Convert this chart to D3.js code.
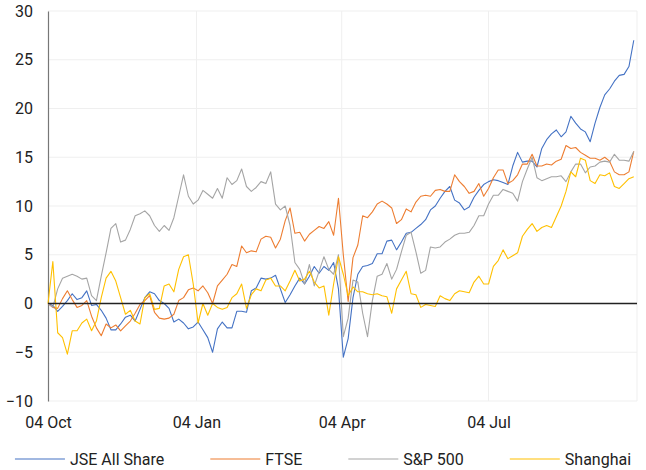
<!DOCTYPE html>
<html>
<head>
<meta charset="utf-8">
<script src="https://cdn.jsdelivr.net/npm/d3@7"></script>
<style>
  body { margin: 0; background: #fff; }
  svg { display: block; font-family: Roboto, "Noto Sans", sans-serif; }
</style>
</head>
<body>
<div id="chart"></div>
<script>
// Indices relatifs (%) depuis le 04 Oct, relevés tous les 3 jours
const startDate = new Date(2022, 9, 4)
const endDate = new Date(2023, 9, 4)
const sampleDates = d3.timeDay.range(startDate, endDate, 3)

const seriesNames = ["JSE All Share", "FTSE", "S&P 500", "Shanghai"]
const seriesColors = ["#4472C4", "#ED7D31", "#A5A5A5", "#FFC000"]

const jse = [
  0, -0.2, -0.8, -0.3, 0.3, 1.0, 0.4, 0.6, 1.3, -0.2, -0.1,
  -0.7, -1.5, -2.7, -2.7, -2.1, -1.4, -1.2, -1.8, -0.6, 0.6,
  1.2, 1.0, 0.3, 0.0, -0.5, -1.9, -1.6, -2.0, -2.6, -2.4,
  -1.9, -2.7, -3.5, -5.0, -2.6, -1.9, -2.5, -2.5, -0.8, -0.8,
  -0.9, 1.3, 1.6, 2.6, 2.5, 2.6, 2.9, 1.5, 0.1, 0.9,
  1.8, 2.6, 2.0, 2.8, 3.8, 3.1, 3.8, 3.4, 4.2, 1.5,
  -5.5, -3.6, 0.6, 3.0, 3.8, 3.9, 4.1, 5.1, 5.1, 6.4,
  6.5, 5.5, 6.3, 7.2, 7.3, 7.7, 8.1, 8.6, 9.6, 10.0,
  10.8, 11.5, 12.0, 10.6, 10.3, 9.6, 9.9, 10.9, 11.6, 12.2,
  12.5,
  12.7, 12.6, 12.4, 12.2, 14.1, 15.5, 14.5, 14.6, 14.6,
  14.0, 15.9, 16.8, 17.4, 17.8, 17.1, 17.6, 19.2, 18.5, 17.9,
  17.6, 16.6, 18.5, 20.1, 21.4, 22.0, 22.8, 23.4, 23.5, 24.3, 27.0,
]
const ftse = [
  0, -0.4, -0.5, 0.5, 1.3, 0.4, -0.4, -0.2, 0.3, -1.3, -2.5,
  -3.3, -2.1, -2.5, -2.2, -2.8, -2.3, -1.8, -1.0, -0.1, 0.3,
  0.8, -0.9, -1.5, -1.6, -1.5, -1.1, 0.3, 0.6, 1.4, 1.6,
  1.3, 1.8, 1.1, 0.0, 1.8, 2.4, 3.0, 4.0, 3.8, 5.9,
  5.2, 5.4, 5.3, 6.6, 6.9, 6.8, 5.7, 6.6, 8.5, 9.8,
  7.2, 7.3, 6.4, 7.1, 7.5, 7.9, 7.7, 8.4, 7.0, 10.8,
  5.0, 0.2, 4.7, 6.0, 9.0, 8.8, 9.4, 10.2, 10.5, 10.2,
  9.8, 8.2, 8.6, 9.7, 9.4, 10.4, 11.0, 11.1, 11.0, 11.6,
  11.7, 11.5, 11.5, 13.2, 12.5, 12.0, 11.3, 11.5, 12.3, 11.0,
  11.8,
  12.9, 13.7, 13.7, 12.3, 12.6, 13.2, 14.3, 14.3, 15.3,
  14.1, 14.1, 14.3, 14.2, 14.6, 14.8, 16.2, 15.9, 16.0, 15.5,
  15.2, 14.9, 14.9, 14.7, 15.0, 14.6, 13.5, 13.2, 13.2, 13.5, 15.6,
]
const sp500 = [
  0, -0.4, 1.5, 2.6, 2.8, 3.0, 2.8, 2.5, 2.6, 0.8, 0.3,
  2.8, 5.2, 7.7, 8.2, 6.3, 6.5, 7.6, 9.0, 9.2, 9.5,
  9.0, 8.0, 7.4, 8.0, 7.5, 8.8, 11.0, 13.2, 11.0, 10.2,
  10.6, 11.6, 11.2, 10.8, 11.8, 10.8, 12.9, 12.2, 12.6, 13.8,
  12.0, 11.5, 11.9, 12.5, 12.3, 13.5, 10.2, 9.6, 10.0, 8.0,
  4.2, 3.5, 2.0, 4.0, 1.8, 3.3, 4.8, 3.5, 3.0, 5.0,
  -3.4, -1.5, 2.4, 2.2, -1.0, -3.4, 0.3, 2.8, 3.0, 4.1,
  2.5, 3.5, 5.3, 7.0, 7.3, 5.3, 3.1, 3.4, 5.8, 5.7,
  5.8, 6.3, 6.6, 7.0, 7.2, 7.2, 7.3, 8.0, 9.0, 9.0,
  10.2,
  11.1, 11.1, 11.7, 11.5, 11.3, 10.5, 12.5, 13.8, 15.0,
  12.9, 12.6, 12.8, 13.0, 13.0, 13.1, 12.5, 13.5, 14.3, 14.3,
  13.4, 14.0, 14.1, 14.5, 14.6, 14.5, 15.3, 14.7, 14.7, 14.6, 15.6,
]
const shanghai = [
  0, 4.3, -3.0, -3.5, -5.2, -2.8, -2.8, -2.0, -1.6, -2.8, -1.8,
  0.6, 2.6, 3.3, 2.3, 0.6, -1.1, -0.7, -1.8, -2.1, 0.6,
  1.0, -0.6, -0.5, 1.8, 2.0, 1.2, 3.5, 4.8, 5.0, 2.0,
  -2.0, 0.0, -1.2, 0.0, -0.4, -0.6, -0.4, 0.6, 1.0, 2.0,
  -0.5, 0.9, 1.5, 1.3, 2.4, 2.6, 1.8, 1.8, 1.3, 2.3,
  3.4, 2.3, 2.5, 3.3, 2.2, 1.6, 1.8, -1.2, 2.0, 4.8,
  3.0, 0.8, 1.7, 1.2, 1.2, 1.0, 0.9, 1.0, 0.8, 0.7,
  -1.0, 1.5, 2.4, 3.3, 1.0, 0.9, -0.4, -0.1, -0.2, -0.3,
  0.8, 0.5, 0.3, 1.0, 1.3, 1.2, 1.1, 2.2, 2.8, 2.0,
  2.0,
  3.8, 4.4, 5.5, 4.6, 4.9, 5.2, 6.9, 7.6, 8.2,
  7.4, 7.8, 8.0, 7.8, 8.9, 10.0, 11.5, 13.5, 13.0, 14.9,
  14.7, 12.6, 12.3, 13.2, 13.1, 13.4, 12.0, 11.8, 12.3, 12.8, 13.0,
]

const yTicks = [-10, -5, 0, 5, 10, 15, 20, 25, 30]
const xTicks = [new Date(2022, 9, 4), new Date(2023, 0, 4), new Date(2023, 3, 4), new Date(2023, 6, 4)]

const width = 646, height = 470
const plot = { left: 48, right: 637, top: 11, bottom: 401 }
const fontSize = 16

const x = d3.scaleTime().domain([startDate, endDate]).range([plot.left, plot.right])
const y = d3.scaleLinear().domain([-10, 30]).range([plot.bottom, plot.top])

const svg = d3.select("#chart").append("svg")
  .attr("width", width).attr("height", height)

// Grille
const grid = svg.append("g")
grid.selectAll("line.h").data(yTicks).join("line")
  .attr("x1", plot.left).attr("x2", plot.right)
  .attr("y1", (d) => y(d)).attr("y2", (d) => y(d))
  .attr("stroke", "#efefef").attr("stroke-width", 1)
grid.selectAll("line.v").data([...xTicks.slice(1), endDate]).join("line")
  .attr("x1", (d) => x(d)).attr("x2", (d) => x(d))
  .attr("y1", plot.top).attr("y2", plot.bottom)
  .attr("stroke", "#efefef").attr("stroke-width", 1)

// Axe Y
const yAxis = svg.append("g")
  .attr("transform", `translate(${plot.left},0)`)
  .call(d3.axisLeft(y).tickValues(yTicks).tickSize(0).tickPadding(15))
yAxis.select(".domain").attr("stroke", "#777").attr("stroke-width", 1.2)
yAxis.selectAll("text").attr("font-size", fontSize).attr("fill", "#222")
  .attr("font-family", "Roboto, sans-serif")

// Axe X (libellés seulement)
const xAxis = svg.append("g")
  .attr("transform", `translate(0,${plot.bottom})`)
  .call(d3.axisBottom(x).tickValues(xTicks).tickFormat(d3.timeFormat("%d %b")).tickSize(0).tickPadding(16))
xAxis.select(".domain").remove()
xAxis.selectAll("text").attr("font-size", fontSize).attr("fill", "#222")
  .attr("font-family", "Roboto, sans-serif")

// Séries
const allSeries = [jse, ftse, sp500, shanghai]
const line = d3.line()
  .x((d, i) => x(sampleDates[i]))
  .y((d) => y(d))

svg.append("g").selectAll("path").data(allSeries).join("path")
  .attr("d", line)
  .attr("fill", "none")
  .attr("stroke", (_, k) => seriesColors[k])
  .attr("stroke-width", 1.1)
  .attr("stroke-linejoin", "round")

// Ligne zéro
svg.append("line")
  .attr("x1", plot.left).attr("x2", plot.right)
  .attr("y1", y(0)).attr("y2", y(0))
  .attr("stroke", "#222").attr("stroke-width", 1.4)

// Légende centrée
const legend = svg.append("g").attr("transform", "translate(0,459)")
const items = legend.selectAll("g").data(seriesNames).join("g")
items.append("line")
  .attr("x1", 0).attr("x2", 50).attr("y1", 0).attr("y2", 0)
  .attr("stroke", (_, k) => seriesColors[k]).attr("stroke-width", 1.2)
items.append("text")
  .attr("x", 55).attr("y", 0).attr("dy", "0.35em")
  .attr("font-size", fontSize).attr("fill", "#222")
  .text((d) => d)
const gap = 46
const widths = []
items.each(function () { widths.push(this.getBBox().width) })
const total = d3.sum(widths) + gap * (widths.length - 1)
let cx = (width - total) / 2
items.attr("transform", (_, k) => {
  const t = `translate(${cx},0)`
  cx += widths[k] + gap
  return t
})
</script>
</body>
</html>
